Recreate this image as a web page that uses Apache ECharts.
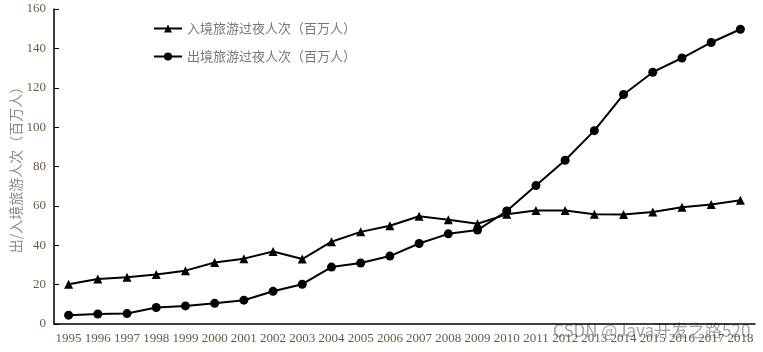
<!DOCTYPE html>
<html><head><meta charset="utf-8">
<script src="https://cdn.jsdelivr.net/npm/echarts@6/dist/echarts.min.js"></script>
<style>html,body{margin:0;padding:0;background:#fff}#c{width:763px;height:352px}</style>
</head><body><div id="c"></div>
<script>
var years = ['1995','1996','1997','1998','1999','2000','2001','2002','2003','2004','2005','2006','2007','2008','2009','2010','2011','2012','2013','2014','2015','2016','2017','2018'];
var inbound = [20.2,22.9,23.8,25.1,27.1,31.2,33.2,36.8,33.0,41.8,46.8,49.9,54.7,53.0,50.9,55.7,57.6,57.7,55.7,55.6,56.9,59.3,60.7,62.9];
var outbound = [4.5,5.1,5.3,8.4,9.2,10.5,12.1,16.6,20.2,28.9,31.0,34.5,40.9,45.8,47.7,57.4,70.3,83.2,98.2,116.6,127.9,135.1,143.0,149.7];
var seriesNames = ['入境旅游过夜人次（百万人）','出境旅游过夜人次（百万人）'];
var yTitle = '出/入境旅游人次（百万人）';

var chart = echarts.init(document.getElementById('c'));
var labelColor = '#6b5842';
chart.setOption({
  animation: false,
  backgroundColor: '#fff',
  grid: {left: 54, right: 8, top: 9, bottom: 28, containLabel: false, outerBoundsMode: 'none'},
  legend: {
    orient: 'vertical', left: 148, top: 17, itemWidth: 28, itemHeight: 10, itemGap: 15,
    textStyle: {color: '#777', fontSize: 13, fontFamily: 'Noto Sans CJK SC'},
    data: seriesNames
  },
  xAxis: {
    type: 'category', data: years, boundaryGap: true,
    axisLine: {lineStyle: {color: '#000', width: 1.5}},
    axisTick: {inside: true, length: 5, lineStyle: {color: '#000'}},
    axisLabel: {color: labelColor, fontSize: 13, fontFamily: 'Liberation Serif', margin: 8, interval: 0}
  },
  yAxis: {
    type: 'value', min: 0, max: 160, interval: 20,
    name: yTitle, nameLocation: 'middle', nameGap: 31, nameRotate: 90, nameMoveOverlap: false,
    nameTextStyle: {color: '#8a8a8a', fontSize: 14, fontFamily: 'Noto Sans CJK SC'},
    axisLine: {show: true, lineStyle: {color: '#000', width: 1.5}},
    axisTick: {show: true, inside: true, length: 5, lineStyle: {color: '#000'}},
    splitLine: {show: false},
    axisLabel: {color: labelColor, fontSize: 13, fontFamily: 'Liberation Serif', margin: 8}
  },
  series: [
    {name: seriesNames[0], type: 'line', data: inbound, symbol: 'triangle', symbolSize: 9,
     lineStyle: {color: '#000', width: 2}, itemStyle: {color: '#000'}},
    {name: seriesNames[1], type: 'line', data: outbound, symbol: 'circle', symbolSize: 9,
     lineStyle: {color: '#000', width: 2}, itemStyle: {color: '#000'}}
  ],
  graphic: [{
    type: 'text', left: 553, top: 322, silent: true,
    style: {text: 'CSDN @Java开发之路520', fill: 'rgba(140,140,140,0.8)', fontSize: 17, fontFamily: 'Noto Sans CJK SC'}
  }]
});
</script></body></html>
